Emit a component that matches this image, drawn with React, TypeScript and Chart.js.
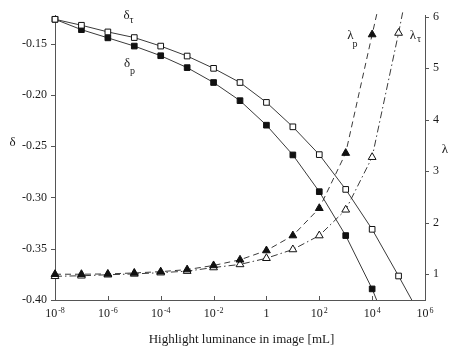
import React, { useEffect, useRef } from "react";
import { Chart, registerables } from "chart.js";

Chart.register(...registerables);

// decades (log10 of luminance in mL) at which the markers sit
const expP = [-8, -7, -6, -5, -4, -3, -2, -1, 0, 1, 2, 3, 4];
const expT = [-8, -7, -6, -5, -4, -3, -2, -1, 0, 1, 2, 3, 4, 5];

const deltaP = [-0.1264, -0.1365, -0.1445, -0.1525, -0.1619, -0.1735, -0.188, -0.2057, -0.2296, -0.2586, -0.2944, -0.3372, -0.3892];
const deltaT = [-0.1264, -0.1322, -0.1387, -0.1442, -0.1525, -0.1622, -0.1742, -0.188, -0.2074, -0.2312, -0.2583, -0.2922, -0.3311, -0.3766];
const lambdaP = [1.0, 1.0, 1.006, 1.025, 1.05, 1.09, 1.17, 1.28, 1.46, 1.75, 2.28, 3.35, 5.65];
const lambdaT = [0.96, 0.97, 0.99, 1.006, 1.03, 1.06, 1.13, 1.19, 1.31, 1.48, 1.75, 2.25, 3.27, 5.68];

// where each curve leaves the frame: [decade, value]
const deltaPEnd = [4.17, -0.4];
const deltaTEnd = [5.5, -0.4];
const lambdaPEnd = [4.19, 6.08];
const lambdaTEnd = [5.155, 6.08];

const xTickExps = [-8, -6, -4, -2, 0, 2, 4, 6];
const deltaTicks = [-0.4, -0.35, -0.3, -0.25, -0.2, -0.15];
const lambdaTicks = [1, 2, 3, 4, 5, 6];

const SERIF = '"Liberation Serif", "Times New Roman", serif';
const TEXT = "#1a1a1a";
const AXIS = "#555555";
const LINE = "#3a3a3a";
const MARK = "#111111";

function series(exps: number[], vals: number[], end: number[]) {
  const pts = exps.map((e, i) => ({ x: Math.pow(10, e), y: vals[i] }));
  pts.push({ x: Math.pow(10, end[0]), y: end[1] });
  return pts;
}

function radii(n: number, r: number) {
  const a: number[] = [];
  for (let i = 0; i < n; i++) a.push(r);
  a.push(0);
  return a;
}

const overlay = {
  id: "overlay",
  afterDraw(chart: any) {
    const ctx = chart.ctx as CanvasRenderingContext2D;
    const { left, right, bottom } = chart.chartArea;
    const xs = chart.scales.x;
    const ys = chart.scales.y;
    const yr = chart.scales.yR;
    ctx.save();
    // tick marks
    ctx.strokeStyle = AXIS;
    ctx.lineWidth = 1;
    ctx.beginPath();
    deltaTicks.forEach((v) => {
      const py = Math.round(ys.getPixelForValue(v)) + 0.5;
      ctx.moveTo(left - 4, py);
      ctx.lineTo(left, py);
    });
    lambdaTicks.forEach((v) => {
      const py = Math.round(yr.getPixelForValue(v)) + 0.5;
      ctx.moveTo(right, py);
      ctx.lineTo(right + 4, py);
    });
    xTickExps.forEach((e) => {
      const px = Math.round(xs.getPixelForValue(Math.pow(10, e))) + 0.5;
      ctx.moveTo(px, bottom);
      ctx.lineTo(px, bottom - 4);
    });
    ctx.stroke();

    // x tick labels with superscript exponents
    ctx.fillStyle = TEXT;
    ctx.textBaseline = "alphabetic";
    xTickExps.forEach((e) => {
      const px = xs.getPixelForValue(Math.pow(10, e));
      ctx.font = `12px ${SERIF}`;
      if (e === 0) {
        ctx.textAlign = "center";
        ctx.fillText("1", px, 317);
        return;
      }
      const w1 = ctx.measureText("10").width;
      ctx.font = `8px ${SERIF}`;
      const sup = String(e);
      const w2 = ctx.measureText(sup).width;
      const x0 = px - (w1 + 1 + w2) / 2;
      ctx.textAlign = "left";
      ctx.font = `12px ${SERIF}`;
      ctx.fillText("10", x0, 317);
      ctx.font = `8px ${SERIF}`;
      ctx.fillText(sup, x0 + w1 + 1, 313);
    });

    // axis titles
    ctx.textAlign = "center";
    ctx.textBaseline = "middle";
    ctx.font = `13px ${SERIF}`;
    ctx.fillText("Highlight luminance in image [mL]", 241.5, 340);
    ctx.fillText("δ", 12.5, 143);
    ctx.fillText("λ", 445, 150);

    // curve labels
    const lab = (main: string, sub: string, x: number, y: number, sx: number, sy: number) => {
      ctx.font = `13px ${SERIF}`;
      ctx.textAlign = "center";
      ctx.fillText(main, x, y);
      ctx.font = `10px ${SERIF}`;
      ctx.textAlign = "left";
      ctx.fillText(sub, x + sx, y + sy);
    };
    lab("δ", "τ", 126.5, 16, 3, 4);
    lab("δ", "p", 127, 64, 3, 7);
    lab("λ", "p", 350.5, 36, 2, 8);
    lab("λ", "τ", 413, 36, 4, 3);
    ctx.restore();
  },
};

export default function App() {
  const ref = useRef<HTMLCanvasElement>(null);
  useEffect(() => {
    const canvas = ref.current;
    if (!canvas) return;
    const chart = new Chart(canvas, {
      type: "line",
      data: {
        datasets: [
          {
            label: "δτ",
            yAxisID: "y",
            data: series(expT, deltaT, deltaTEnd),
            borderColor: LINE,
            borderWidth: 1,
            pointStyle: "rect",
            pointRadius: radii(expT.length, 4),
            pointBackgroundColor: "#ffffff",
            pointBorderColor: MARK,
            pointBorderWidth: 1,
            clip: false,
          },
          {
            label: "δp",
            yAxisID: "y",
            data: series(expP, deltaP, deltaPEnd),
            borderColor: LINE,
            borderWidth: 1,
            pointStyle: "rect",
            pointRadius: radii(expP.length, 4),
            pointBackgroundColor: MARK,
            pointBorderColor: MARK,
            pointBorderWidth: 1,
            clip: false,
          },
          {
            label: "λp",
            yAxisID: "yR",
            data: series(expP, lambdaP, lambdaPEnd),
            borderColor: LINE,
            borderWidth: 1,
            borderDash: [6, 4],
            pointStyle: "triangle",
            pointRadius: radii(expP.length, 4.5),
            pointBackgroundColor: MARK,
            pointBorderColor: MARK,
            pointBorderWidth: 1,
            clip: false,
          },
          {
            label: "λτ",
            yAxisID: "yR",
            data: series(expT, lambdaT, lambdaTEnd),
            borderColor: LINE,
            borderWidth: 1,
            borderDash: [7, 3, 1.5, 3],
            pointStyle: "triangle",
            pointRadius: radii(expT.length, 4.5),
            pointBackgroundColor: "#ffffff",
            pointBorderColor: MARK,
            pointBorderWidth: 1,
            clip: false,
          },
        ],
      },
      options: {
        responsive: false,
        animation: false,
        devicePixelRatio: 1,
        layout: { padding: { top: 13, left: 0, right: 0, bottom: 0 } },
        plugins: { legend: { display: false }, tooltip: { enabled: false }, title: { display: false } },
        elements: { line: { tension: 0 } },
        scales: {
          x: {
            type: "logarithmic",
            position: "bottom",
            min: 1e-8,
            max: 1e6,
            grid: { display: false, drawTicks: false },
            border: { display: true, color: AXIS, width: 1 },
            ticks: { display: false },
            afterBuildTicks: (s: any) => {
              s.ticks = xTickExps.map((e) => ({ value: Math.pow(10, e) }));
            },
            afterFit: (s: any) => {
              s.height = 55;
            },
          },
          y: {
            type: "linear",
            position: "left",
            min: -0.4,
            max: -0.1224,
            grid: { display: false, drawTicks: false },
            border: { display: true, color: AXIS, width: 1 },
            ticks: {
              color: TEXT,
              padding: 8,
              font: { family: SERIF, size: 12 },
              callback: (v: any) => Number(v).toFixed(2),
            },
            afterBuildTicks: (s: any) => {
              s.ticks = deltaTicks.map((v) => ({ value: v }));
            },
            afterFit: (s: any) => {
              s.width = 55;
            },
          },
          yR: {
            type: "linear",
            position: "right",
            min: 0.5,
            max: 6.0256,
            grid: { display: false, drawTicks: false },
            border: { display: true, color: AXIS, width: 1 },
            ticks: {
              color: TEXT,
              padding: 8,
              font: { family: SERIF, size: 12 },
              callback: (v: any) => String(v),
            },
            afterBuildTicks: (s: any) => {
              s.ticks = lambdaTicks.map((v) => ({ value: v }));
            },
            afterFit: (s: any) => {
              s.width = 30;
            },
          },
        },
      } as any,
      plugins: [overlay],
    });
    return () => chart.destroy();
  }, []);
  return (
    <div style={{ position: "fixed", left: 0, top: 0, width: 455, height: 355, background: "#ffffff" }}>
      <canvas ref={ref} width={455} height={355} style={{ display: "block", width: 455, height: 355 }} />
    </div>
  );
}
